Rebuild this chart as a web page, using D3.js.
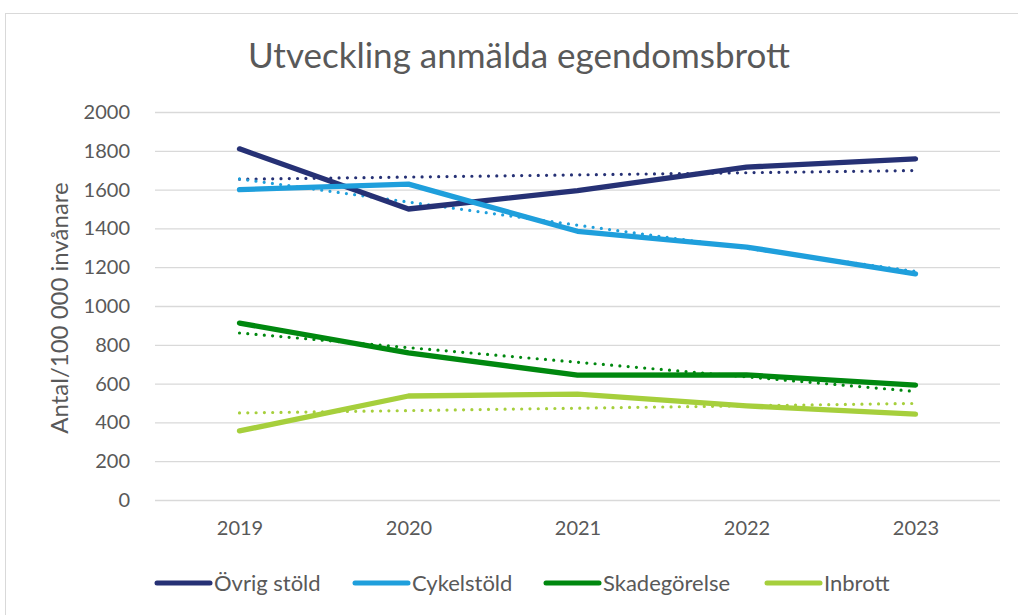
<!DOCTYPE html>
<html>
<head>
<meta charset="utf-8">
<script src="https://cdn.jsdelivr.net/npm/d3@7"></script>
<style>
  body { margin: 0; background: #fff; }
  text { font-family: "Lato", "Open Sans", sans-serif; fill: #595959; }
</style>
</head>
<body>
<div id="plot"></div>
<script>
const years = ['2019', '2020', '2021', '2022', '2023']
const ovrigStold = [1810, 1500, 1595, 1716, 1758]
const cykelstold = [1600, 1628, 1385, 1304, 1166]
const skadegorelse = [912, 758, 644, 645, 592]
const inbrott = [356, 536, 546, 485, 443]
const yTicks = [0, 200, 400, 600, 800, 1000, 1200, 1400, 1600, 1800, 2000]

const seriesNames = ['Övrig stöld', 'Cykelstöld', 'Skadegörelse', 'Inbrott']
const seriesColors = ['#263175', '#1f9fdc', '#00880f', '#a6cf3c']
const seriesValues = [ovrigStold, cykelstold, skadegorelse, inbrott]

// linear trend like excel does it
const trend = function(vals) {
  const n = vals.length
  const mx = (n - 1) / 2
  const my = d3.mean(vals)
  let num = 0, den = 0
  vals.forEach((v, i) => { num += (i - mx) * (v - my); den += (i - mx) * (i - mx) })
  const k = num / den
  return vals.map((v, i) => my + k * (i - mx))
}

const W = 1018, H = 615
const margin = {top: 112, right: 18, bottom: 115, left: 155}
const width = W - margin.left - margin.right
const height = H - margin.top - margin.bottom

const svg = d3.select('#plot').append('svg')
  .attr('width', W).attr('height', H)

// chart border
svg.append('rect')
  .attr('x', 5.5).attr('y', 13.5)
  .attr('width', W).attr('height', H)
  .attr('fill', 'none').attr('stroke', '#d9d9d9')

const g = svg.append('g')
  .attr('transform', `translate(${margin.left},${margin.top})`)

const x = d3.scalePoint().domain(years).range([0, width]).padding(0.5)
const y = d3.scaleLinear().domain([0, 2000]).range([height, 0])

// gridlines + y labels
const yAxis = g.append('g')
  .call(d3.axisLeft(y).tickValues(yTicks).tickFormat(d3.format('d')).tickSize(-width).tickPadding(25))
yAxis.select('.domain').remove()
yAxis.selectAll('.tick line').attr('stroke', '#d9d9d9').attr('stroke-width', 1.3)
yAxis.selectAll('.tick text').style('font-size', '20px').attr('fill', '#595959')

const xAxis = g.append('g')
  .attr('transform', `translate(0,${height})`)
  .call(d3.axisBottom(x).tickSize(0).tickPadding(21))
xAxis.select('.domain').remove()
xAxis.selectAll('.tick text').style('font-size', '20px').attr('fill', '#595959')

const line = d3.line()
  .x((d, i) => x(years[i]))
  .y(d => y(d))

// trend lines (dotted)
g.selectAll('.trend')
  .data(seriesValues)
  .enter()
  .append('path')
    .attr('fill', 'none')
    .attr('stroke', (d, i) => seriesColors[i])
    .attr('stroke-width', 3.2)
    .attr('stroke-linecap', 'round')
    .attr('stroke-dasharray', '0,8.3')
    .attr('d', d => line(trend(d)))

// data lines
g.selectAll('.series')
  .data(seriesValues)
  .enter()
  .append('path')
    .attr('fill', 'none')
    .attr('stroke', (d, i) => seriesColors[i])
    .attr('stroke-width', 5.3)
    .attr('stroke-linecap', 'round')
    .attr('stroke-linejoin', 'round')
    .attr('d', d => line(d))

// title
svg.append('text')
  .attr('x', 519).attr('y', 68)
  .attr('text-anchor', 'middle')
  .style('font-size', '35px')
  .text('Utveckling anmälda egendomsbrott')

// y axis title
svg.append('text')
  .attr('transform', 'rotate(-90)')
  .attr('x', -308).attr('y', 68)
  .attr('text-anchor', 'middle')
  .style('font-size', '24px')
  .text('Antal/100 000 invånare')

// legend
const legendX = [157, 355, 546, 767]
const leg = svg.selectAll('.leg')
  .data(seriesNames)
  .enter()
  .append('g')
    .attr('transform', (d, i) => `translate(${legendX[i]},583)`)
leg.append('line')
  .attr('x1', 0).attr('x2', 53)
  .attr('stroke', (d, i) => seriesColors[i])
  .attr('stroke-width', 5)
  .attr('stroke-linecap', 'round')
leg.append('text')
  .attr('x', 57).attr('dy', '0.35em')
  .style('font-size', '22px')
  .text(d => d)
</script>
</body>
</html>
